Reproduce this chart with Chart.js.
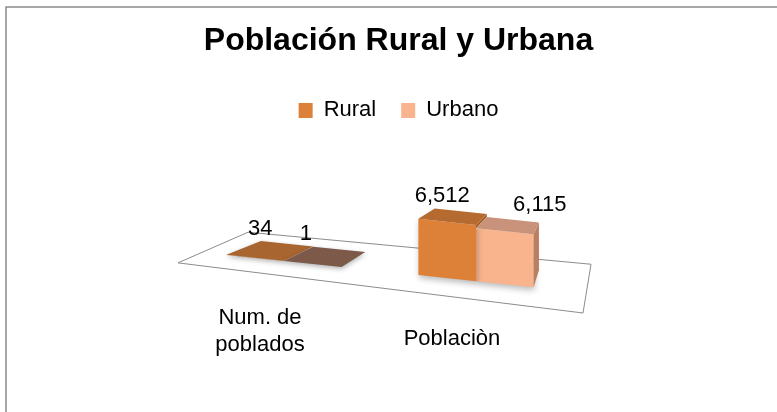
<!DOCTYPE html>
<html>
<head>
<meta charset="utf-8">
<title>Población Rural y Urbana</title>
<script src="https://cdn.jsdelivr.net/npm/chart.js@4.4.0/dist/chart.umd.min.js"></script>
<style>
  html, body { margin: 0; padding: 0; background: #fff; }
  #grafico { display: block; }
</style>
</head>
<body>
<canvas id="grafico" width="777" height="412"></canvas>
<script>
// Datos del gráfico
const categorias = [['Num. de', 'poblados'], 'Poblaciòn'];
const series = ['Rural', 'Urbano'];
const rural = [34, 6512];
const urbano = [1, 6115];

// Perspectiva simple para imitar el 3D de Excel
const SKEW = 0.105;               // inclinación del plano frontal
const FUGA = { x: 590, y: 110 };  // punto de fuga
const PROF = 0.095;               // profundidad de las barras

const caras = [
  { top: '#B56A2F', side: '#A45C26', flat: '#A9652F' },
  { top: '#C8937A', side: '#BA7E60', flat: '#7C5948' }
];
// pequeño ajuste de la posición de las etiquetas, como en el original
const ajusteEtiqueta = [[5, -5], [-7, 35]];

Chart.defaults.font.family = "'Liberation Sans', Arial, sans-serif";
Chart.defaults.color = '#000';

function xAncla(chart) {
  return chart.scales.x.getPixelForValue(0);
}

function poligono(ctx, pts, color) {
  ctx.beginPath();
  pts.forEach(([x, y], i) => i ? ctx.lineTo(x, y) : ctx.moveTo(x, y));
  ctx.closePath();
  ctx.fillStyle = color;
  ctx.fill();
}

const efecto3d = {
  id: 'efecto3d',
  beforeDraw(chart) {
    const { ctx, width, height } = chart;
    ctx.save();
    ctx.fillStyle = '#fff';
    ctx.fillRect(0, 0, width, height);
    // marco del gráfico (recortado a la derecha y abajo)
    ctx.strokeStyle = '#8a8a8a';
    ctx.lineWidth = 1.5;
    ctx.beginPath();
    ctx.moveTo(6, height);
    ctx.lineTo(6, 7);
    ctx.lineTo(width, 7);
    ctx.stroke();
    ctx.restore();
  },
  beforeDatasetsDraw(chart) {
    const { ctx, chartArea: a } = chart;
    const xa = xAncla(chart);
    const base = x => a.bottom + SKEW * (x - xa);
    // piso
    const esquinas = [[a.left - 10, 13], [a.left + 60, -25], [a.right + 19, -29], [a.right + 11, 20.6]];
    ctx.save();
    ctx.beginPath();
    esquinas.forEach(([x, dy], i) => {
      const y = base(x) + dy;
      i ? ctx.lineTo(x, y) : ctx.moveTo(x, y);
    });
    ctx.closePath();
    ctx.strokeStyle = '#8c8c8c';
    ctx.lineWidth = 1;
    ctx.stroke();
    ctx.restore();

    // las caras frontales se dibujan inclinadas y con sombra
    ctx.save();
    ctx.transform(1, SKEW, 0, 1, 0, -SKEW * xa);
    ctx.shadowColor = 'rgba(0,0,0,0.28)';
    ctx.shadowBlur = 6;
    ctx.shadowOffsetX = 1;
    ctx.shadowOffsetY = 3;
  },
  afterDatasetsDraw(chart) {
    const { ctx, chartArea: a } = chart;
    ctx.restore();
    const xa = xAncla(chart);
    const base = x => a.bottom + SKEW * (x - xa);
    const p = (px, py) => [px, py + SKEW * (px - xa)];
    const atras = ([px, py]) => [px + PROF * (FUGA.x - px), py + PROF * (FUGA.y - py)];
    const ultimo = chart.data.datasets.length - 1;

    // caras superior y lateral, en orden de serie
    chart.data.datasets.forEach((ds, di) => {
      const c = caras[di];
      const meta = chart.getDatasetMeta(di);
      meta.data.forEach((bar, i) => {
        const { x, y, base: b, width } = bar.getProps(['x', 'y', 'base', 'width'], true);
        const x0 = x - width / 2, x1 = x + width / 2;
        const tl = p(x0, y), tr = p(x1, y);
        const plano = (b - y) < 2;
        ctx.save();
        if (plano) {
          ctx.shadowColor = 'rgba(0,0,0,0.3)';
          ctx.shadowBlur = 5;
          ctx.shadowOffsetY = 2;
          poligono(ctx, [tl, tr, atras(tr), atras(tl)], c.flat);
        } else {
          // la cara lateral solo se ve por encima de la barra vecina
          const vecina = di < ultimo ? chart.getDatasetMeta(di + 1).data[i] : null;
          const yFin = vecina ? Math.max(y, Math.min(b, vecina.y)) : b;
          if (yFin > y) {
            const br = p(x1, yFin);
            poligono(ctx, [tr, br, atras(br), atras(tr)], c.side);
          }
          poligono(ctx, [tl, tr, atras(tr), atras(tl)], c.top);
        }
        ctx.restore();
      });
    });

    ctx.save();
    ctx.font = "22px 'Liberation Sans', Arial, sans-serif";
    ctx.fillStyle = '#000';
    ctx.textAlign = 'center';
    ctx.textBaseline = 'alphabetic';

    // etiquetas de datos
    chart.data.datasets.forEach((ds, di) => {
      chart.getDatasetMeta(di).data.forEach((bar, i) => {
        const top = bar.y + SKEW * (bar.x - xa);
        const yBack = top + PROF * (FUGA.y - top);
        ctx.fillText(ds.data[i].toLocaleString('en-US'), bar.x + ajusteEtiqueta[di][i], yBack - 9);
      });
    });

    // etiquetas de categorías (siguen la inclinación del piso)
    chart.data.labels.forEach((lab, i) => {
      const x = chart.scales.x.getPixelForValue(i) - 24;
      const lineas = Array.isArray(lab) ? lab : [lab];
      lineas.forEach((t, j) => ctx.fillText(t, x, base(x) + 66 + j * 27));
    });
    ctx.restore();
  }
};

const ctx = document.getElementById('grafico').getContext('2d');
new Chart(ctx, {
  type: 'bar',
  data: {
    labels: categorias,
    datasets: [
      { label: series[0], data: rural, backgroundColor: '#DE8138', borderWidth: 0, clip: false },
      { label: series[1], data: urbano, backgroundColor: '#F9B48D', borderWidth: 0, clip: false }
    ]
  },
  options: {
    responsive: false,
    animation: false,
    events: [],
    layout: { padding: { left: 20, right: 0, top: 0, bottom: 151 } },
    datasets: { bar: { categoryPercentage: 0.6, barPercentage: 1.0 } },
    scales: {
      x: { display: false },
      y: { display: false, min: 0, max: 15000, afterFit: s => { s.width = 168; } },
      y2: { display: false, position: 'right', afterFit: s => { s.width = 205; } }
    },
    plugins: {
      title: {
        display: true,
        text: 'Población Rural y Urbana',
        font: { size: 32, weight: 'bold' },
        color: '#000',
        padding: { top: 22, bottom: 14 }
      },
      legend: {
        labels: { boxWidth: 14, boxHeight: 15, padding: 25, color: '#000', font: { size: 22 } }
      },
      tooltip: { enabled: false }
    }
  },
  plugins: [efecto3d]
});
</script>
</body>
</html>
